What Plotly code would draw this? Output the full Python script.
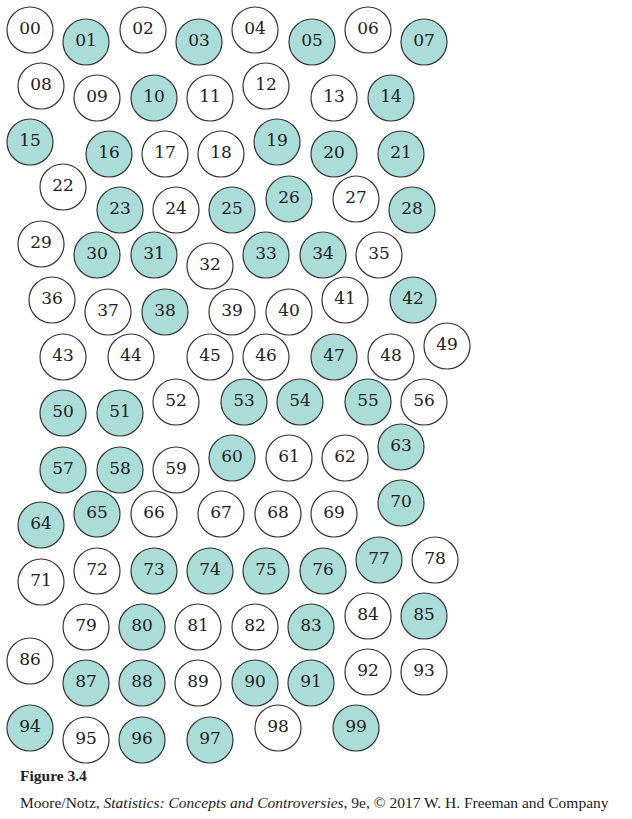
import plotly.graph_objects as go

# circle labels and their positions (pixel grid of the figure, y downwards)
labels = [f"{i:02d}" for i in range(100)]

x = [30, 86, 143, 199, 255, 312, 368, 424,
     41, 97, 154, 210, 266, 334, 391,
     30, 109, 165, 221, 277, 334, 401,
     63, 120, 176, 232, 289, 356, 412,
     41, 97, 154, 210, 266, 323, 379,
     52, 108, 165, 232, 289, 345, 413,
     63, 131, 210, 266, 334, 391, 447,
     63, 120, 176, 244, 300, 368, 424,
     63, 120, 176, 232, 289, 345, 401,
     41, 97, 154, 221, 278, 334, 401,
     41, 97, 154, 210, 266, 323, 379, 435,
     86, 142, 198, 255, 311, 368, 424,
     30, 86, 142, 198, 255, 311, 368, 424,
     30, 86, 142, 210, 278, 356]

y = [30, 42, 30, 42, 30, 42, 30, 42,
     86, 98, 98, 98, 86, 98, 98,
     142, 154, 154, 154, 142, 154, 154,
     187, 210, 210, 210, 199, 199, 210,
     244, 255, 255, 266, 255, 255, 255,
     300, 312, 312, 312, 312, 300, 300,
     357, 357, 357, 357, 357, 357, 346,
     413, 413, 402, 402, 402, 402, 402,
     470, 470, 470, 458, 458, 458, 447,
     525, 514, 514, 514, 514, 514, 503,
     582, 571, 571, 571, 571, 571, 560, 560,
     627, 627, 627, 627, 627, 616, 616,
     661, 683, 683, 683, 683, 683, 672, 672,
     728, 740, 740, 740, 728, 728]

shaded = [1, 3, 5, 7, 10, 14, 15, 16, 19, 20, 21, 23, 25, 26, 28, 30, 31,
          33, 34, 38, 42, 47, 50, 51, 53, 54, 55, 57, 58, 60, 63, 64, 65,
          70, 73, 74, 75, 76, 77, 80, 83, 85, 87, 88, 90, 91, 94, 96, 97, 99]

fills = ["#aadcd8" if i in shaded else "white" for i in range(100)]

fig = go.Figure()

fig.add_trace(
    go.Scatter(
        x=x,
        y=y,
        mode="markers+text",
        text=labels,
        textposition="middle center",
        textfont=dict(family="DejaVu Serif", size=17, color="#222222"),
        marker=dict(
            size=46,
            color=fills,
            line=dict(color="#333333", width=1.2)
        ),
        cliponaxis=False,
        hoverinfo="text",
        showlegend=False
    )
)

fig.add_annotation(
    x=18, y=775, xref="x", yref="y", xanchor="left", yanchor="middle",
    text="<b>Figure 3.4</b>", showarrow=False,
    font=dict(family="Liberation Serif", size=15.5, color="#222222")
)
fig.add_annotation(
    x=18, y=802, xref="x", yref="y", xanchor="left", yanchor="middle",
    text="Moore/Notz, <i>Statistics: Concepts and Controversies</i>, 9e, © 2017 W. H. Freeman and Company",
    showarrow=False,
    font=dict(family="Liberation Serif", size=15.5, color="#222222")
)

fig.update_xaxes(range=[0, 632], visible=False, fixedrange=True)
fig.update_yaxes(range=[819, 0], visible=False, fixedrange=True)

fig.update_layout(
    width=632,
    height=819,
    margin=dict(l=0, r=0, t=0, b=0),
    plot_bgcolor="white",
    paper_bgcolor="white"
)

# drop the browser's default body margin so the figure sits at the corner
fig.write_html(
    "out.html",
    config={"displayModeBar": False},
    post_script="document.body.style.margin = '0';"
)
